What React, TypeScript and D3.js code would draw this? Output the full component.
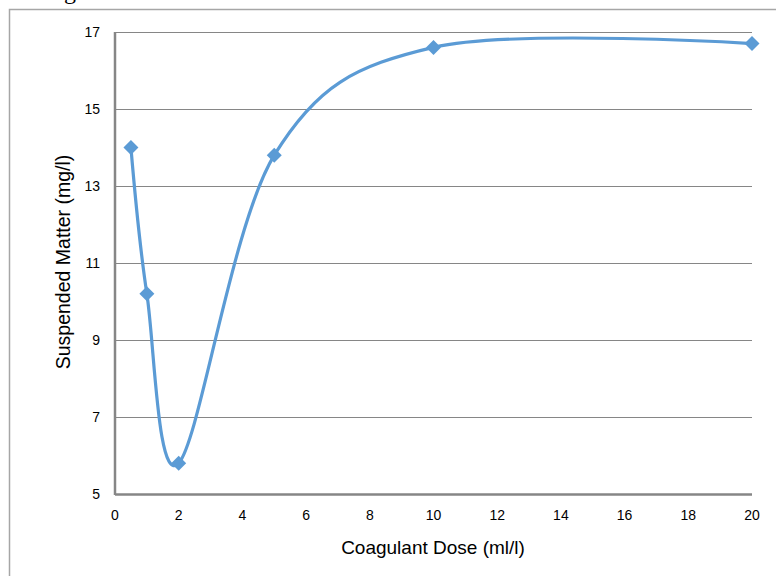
import React from "react";
import * as d3 from "d3";

const doses = [0.5, 1, 2, 5, 10, 20];
const matter = [14, 10.2, 5.8, 13.8, 16.6, 16.7];
const xTicks = [0, 2, 4, 6, 8, 10, 12, 14, 16, 18, 20];
const yTicks = [5, 7, 9, 11, 13, 15, 17];

export default function App() {
  const W = 776, H = 576;
  const left = 115, right = 752, top = 32, bottom = 494;
  const x = d3.scaleLinear().domain([0, 20]).range([left, right]);
  const y = d3.scaleLinear().domain([5, 17]).range([bottom, top]);
  const pts = doses.map((d, i) => [d, matter[i]] as [number, number]);
  const line = d3
    .line<[number, number]>()
    .x((d) => x(d[0]))
    .y((d) => y(d[1]))
    .curve(d3.curveCardinal.tension(0));
  const font = "Liberation Sans, Arial, sans-serif";
  const blue = "#5B9BD5";
  const grid = "#868686";
  const m = 7.5;
  const diamond = `M0,${-m}L${m},0L0,${m}L${-m},0Z`;
  return (
    <svg
      width={W}
      height={H}
      style={{ position: "absolute", left: 0, top: 0, background: "#fff" }}
    >
      <text x={44} y={-1} fontFamily="Liberation Serif, serif" fontSize={24} fill="#000">
        Fig
      </text>
      <path d={`M9.5,${H + 5}V9.5H${W + 5}`} fill="none" stroke="#a6a6a6" strokeWidth={1.5} />
      {yTicks.map((t) => (
        <g key={t}>
          <line x1={left} x2={right} y1={Math.round(y(t)) + 0.5} y2={Math.round(y(t)) + 0.5} stroke={grid} strokeWidth={t === 5 ? 2.5 : 1.2} />
          <text x={100} y={y(t)} dy="0.35em" textAnchor="end" fontFamily={font} fontSize={14} fill="#000">
            {t}
          </text>
        </g>
      ))}
      <line x1={left} x2={left} y1={top} y2={bottom + 1} stroke={grid} strokeWidth={2.5} />
      {xTicks.map((t) => (
        <text key={t} x={x(t)} y={515} dy="0.35em" textAnchor="middle" fontFamily={font} fontSize={14} fill="#000">
          {t}
        </text>
      ))}
      <text x={433} y={547} dy="0.35em" textAnchor="middle" fontFamily={font} fontSize={19} fill="#000">
        Coagulant Dose (ml/l)
      </text>
      <text
        transform={`translate(63,262) rotate(-90)`}
        dy="0.35em"
        textAnchor="middle"
        fontFamily={font}
        fontSize={19.5}
        fill="#000"
      >
        Suspended Matter (mg/l)
      </text>
      <path d={line(pts) || ""} fill="none" stroke={blue} strokeWidth={3.2} strokeLinejoin="round" />
      {pts.map((p, i) => (
        <path key={i} d={diamond} transform={`translate(${x(p[0])},${y(p[1])})`} fill={blue} />
      ))}
    </svg>
  );
}
